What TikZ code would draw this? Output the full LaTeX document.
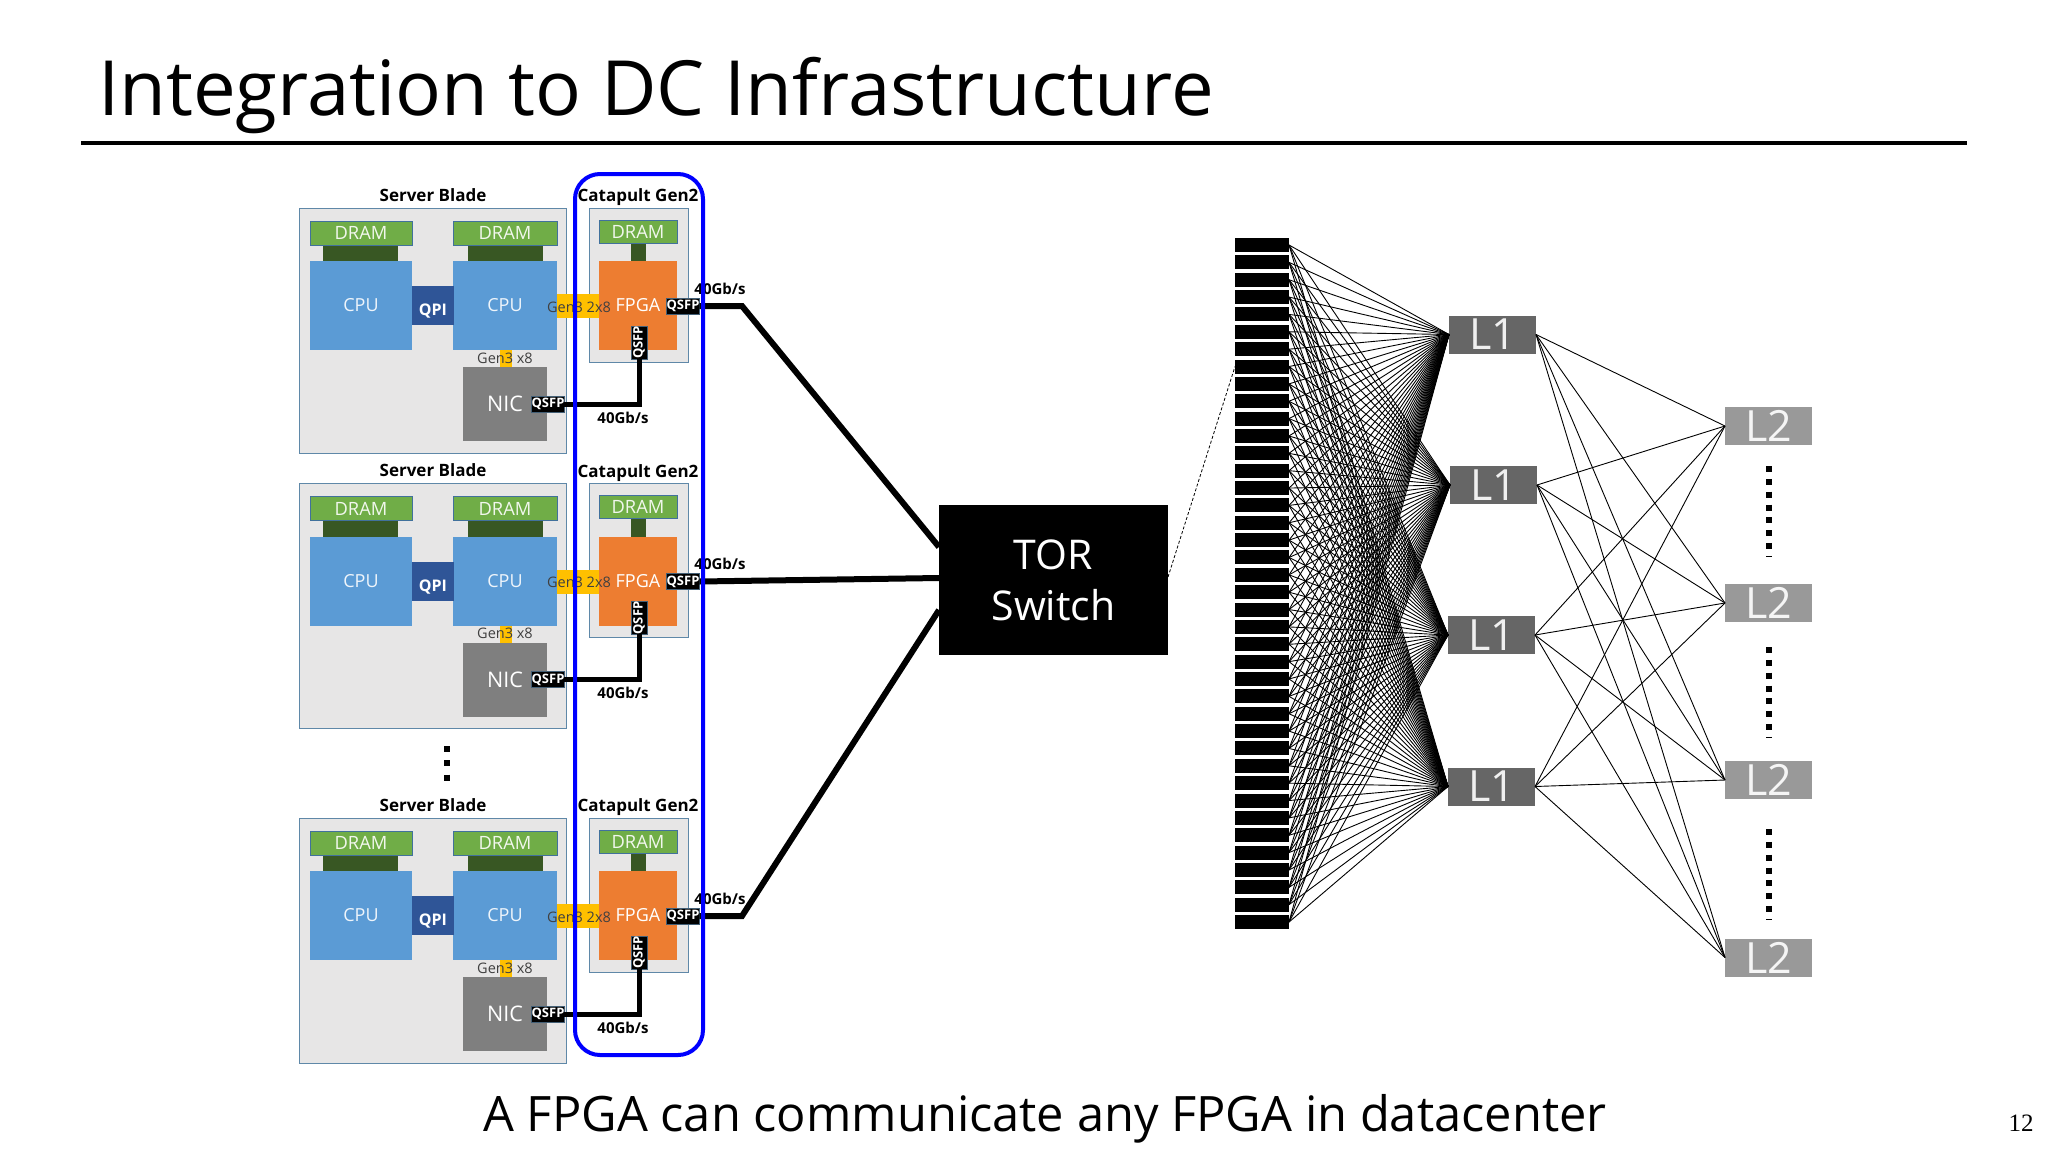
\documentclass[tikz,border=0pt]{standalone}
\usepackage{fontspec}
\setmainfont{Open Sans}
\newfontfamily\pagefont{Liberation Serif}
\definecolor{bladefill}{HTML}{E7E6E6}
\definecolor{bladeedge}{HTML}{5F88A8}
\definecolor{dramfill}{HTML}{70AD47}
\definecolor{dramedge}{HTML}{41719C}
\definecolor{dramlink}{HTML}{385723}
\definecolor{cpufill}{HTML}{5B9BD5}
\definecolor{qpifill}{HTML}{2F5597}
\definecolor{pciefill}{HTML}{FFC000}
\definecolor{nicfill}{HTML}{7F7F7F}
\definecolor{fpgafill}{HTML}{ED7D31}
\definecolor{lonefill}{HTML}{666666}
\definecolor{ltwofill}{HTML}{999999}
\tikzset{
	part/.style={inner sep=0pt, outer sep=0pt, text=white},
	blade/.style={part, draw=bladeedge, fill=bladefill, line width=1pt},
	dram/.style={part, draw=dramedge, fill=dramfill, line width=1pt, minimum height=24pt, font=\fontsize{18.3}{22}\selectfont, text=white!90!dramfill},
	dramstem/.style={part, fill=dramlink},
	cpu/.style={part, fill=cpufill, minimum height=89pt, font=\fontsize{18}{22}\selectfont, text=white!90!cpufill},
	qsfp/.style={part, fill=black, draw=bladeedge!70!black, line width=0.8pt, minimum width=30pt, minimum height=16pt, font=\bfseries\fontsize{13}{14}\selectfont},
	pcie/.style={part, fill=pciefill},
	gentext/.style={anchor=base, inner sep=0pt, text=black!75, font=\fontsize{14.5}{18}\selectfont},
	headtext/.style={anchor=base, inner sep=0pt, font=\bfseries\fontsize{17}{21}\selectfont},
	ratetext/.style={anchor=base, inner sep=0pt, font=\bfseries\fontsize{15}{18}\selectfont},
	link/.style={line width=5pt, black},
	torlink/.style={line width=6pt, black},
	rowbar/.style={inner sep=0pt, outer sep=0pt, fill=black, minimum width=54pt, minimum height=14pt},
	lone/.style={part, fill=lonefill, minimum width=87pt, minimum height=38pt, font=\fontsize{43}{48}\selectfont, text=white!90!lonefill},
	ltwo/.style={part, fill=ltwofill, minimum width=87pt, minimum height=38pt, font=\fontsize{43}{48}\selectfont, text=white!90!ltwofill},
	fanline/.style={line width=0.9pt, black},
	moredots/.style={line width=6pt, black}
}
\begin{document}
\begin{tikzpicture}[x=1pt, y=-1pt]
	\useasboundingbox (0,0) rectangle (2048,1152);

	% Title and caption
	\node[anchor=base west, inner sep=0pt, font=\fontsize{76.2}{90}\selectfont] (title) at (98,115) {Integration to DC Infrastructure};
	\coordinate (ruleL) at (81,143);
	\coordinate (ruleR) at (1967,143);
	\draw[line width=4pt] (ruleL) -- (ruleR);
	\node[anchor=base, inner sep=0pt, font=\fontsize{48.8}{58}\selectfont] (caption) at (1045,1131) {A FPGA can communicate any FPGA in datacenter};
	\node[anchor=base, inner sep=0pt, font=\pagefont\fontsize{25}{28}\selectfont] (pagenum) at (2021,1131) {12};

	% The switch and where the links land on it
	\node[part, fill=black, minimum width=229pt, minimum height=150pt, font=\fontsize{41}{51}\selectfont, align=center] (tor) at (1053.5,580) {TOR\\Switch};
	\coordinate (torA) at (939,547);
	\coordinate (torB) at (939,578);
	\coordinate (torC) at (939,610);

	% One server blade with its board, three times
	\foreach \b/\dy in {a/0, b/275.5, c/610} {
		\begin{scope}[shift={(0,\dy)}]
			\node[blade, minimum width=267pt, minimum height=245pt] (blade\b) at (433,330.5) {};
			\node[blade, minimum width=99pt, minimum height=154pt] (board\b) at (638.5,285) {};
			\node[headtext] (bladehead\b) at (433,201) {Server Blade};
			\node[headtext] (boardhead\b) at (638,201.5) {Catapult Gen2};

			\node[dramstem, minimum width=75pt, minimum height=16pt] (stemL\b) at (360.5,253) {};
			\node[dramstem, minimum width=75pt, minimum height=16pt] (stemR\b) at (505.5,253) {};
			\node[dramstem, minimum width=15pt, minimum height=18pt] (stemF\b) at (638.5,252) {};
			\node[dram, minimum width=102pt] (dramL\b) at (361,233) {DRAM};
			\node[dram, minimum width=104pt] (dramR\b) at (505,233) {DRAM};
			\node[dram, minimum width=78pt, minimum height=23pt] (dramF\b) at (638,231.5) {DRAM};

			\node[cpu, minimum width=102pt] (cpuL\b) at (361,305.5) {CPU};
			\node[cpu, minimum width=104pt] (cpuR\b) at (505,305.5) {CPU};
			\node[part, fill=qpifill, minimum width=42pt, minimum height=39pt, text height=20pt, text depth=0pt, font=\bfseries\fontsize{16}{20}\selectfont] (qpi\b) at (433,305.5) {QPI};

			\node[pcie, minimum width=42pt, minimum height=24pt] (pcieF\b) at (578,306) {};
			\node[pcie, minimum width=12pt, minimum height=17pt] (pcieN\b) at (506,358.5) {};
			\node[part, fill=nicfill, minimum width=84pt, minimum height=74pt, font=\fontsize{21.5}{26}\selectfont] (nic\b) at (505,404) {NIC};
			\node[part, fill=fpgafill, minimum width=78pt, minimum height=89pt, font=\fontsize{18}{22}\selectfont] (fpga\b) at (638,305.5) {FPGA};
			\node[gentext] (genF\b) at (579,312) {Gen3 2x8};
			\node[gentext] (genN\b) at (505,363) {Gen3 x8};

			\node[qsfp] (qsfpN\b) at (548,404) {QSFP};
			\node[qsfp] (qsfpR\b) at (683,306) {QSFP};
			\node[qsfp, rotate=90] (qsfpD\b) at (639,342.5) {QSFP};

			\coordinate (bend\b) at (742,306);
			\draw[link] (qsfpN\b.east) -| (qsfpD\b.west);
			\node[ratetext] (rateD\b) at (623,423) {40Gb/s};
			\node[ratetext] (rateR\b) at (720,294) {40Gb/s};
		\end{scope}
	}
	\draw[torlink] (qsfpRa.east) -- (benda) -- (torA);
	\draw[torlink] (qsfpRb.east) -- (torB);
	\draw[torlink] (qsfpRc.east) -- (bendc) -- (torC);

	% The frame round the boards
	\node[draw=blue, line width=4pt, rounded corners=25pt, inner sep=0pt, minimum width=128pt, minimum height=881pt] (frame) at (639,614.5) {};

	% More blades
	\coordinate (bladedotsT) at (447,746);
	\coordinate (bladedotsB) at (447,781);
	\draw[moredots, dash pattern=on 6pt off 8.3pt] (bladedotsT) -- (bladedotsB);

	% The rack
	\foreach \r in {1,...,40} {
		\node[rowbar] (row\r) at (1262,{245+(\r-1)*17.36}) {};
	}
	\draw[densely dashed, line width=0.8pt] (tor.east |- 0,577) -- (row8.west);

	% L1 and L2
	\node[lone] (lonea) at (1492.5,334.5) {L1};
	\node[lone] (loneb) at (1493.5,485) {L1};
	\node[lone] (lonec) at (1491.5,635) {L1};
	\node[lone] (loned) at (1491.5,786.5) {L1};
	\node[ltwo] (ltwoa) at (1768.5,426) {L2};
	\node[ltwo] (ltwob) at (1768.5,603) {L2};
	\node[ltwo] (ltwoc) at (1768.5,780) {L2};
	\node[ltwo] (ltwod) at (1768.5,957.5) {L2};

	\foreach \r in {1,...,40}
		\foreach \a in {a,b,c,d}
			\draw[fanline] (row\r.east) -- (lone\a.west);
	\foreach \a in {a,b,c,d}
		\foreach \c in {a,b,c,d}
			\draw[fanline] (lone\a.east) -- (ltwo\c.west);

	% Dots between the L2 switches
	\foreach \t in {466,647,829} {
		\coordinate (dotsT\t) at (1769,\t);
		\coordinate (dotsB\t) at (1769,\t+91);
		\draw[moredots, dash pattern=on 6pt off 6.83pt] (dotsT\t) -- (dotsB\t);
	}
\end{tikzpicture}
\end{document}
